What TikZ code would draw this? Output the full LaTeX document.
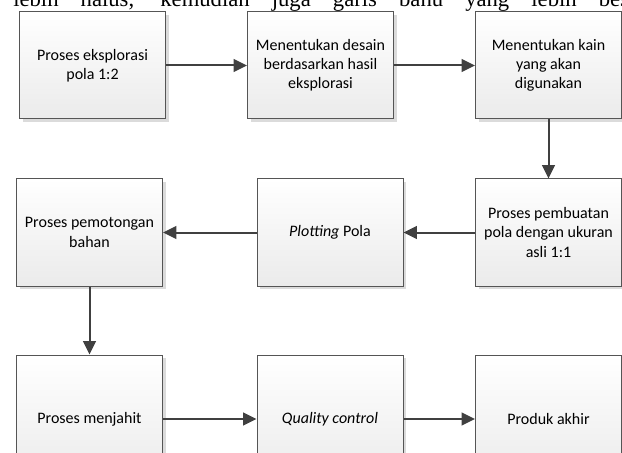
\documentclass[tikz,border=0pt]{standalone}
\usepackage{fontspec}
\setmainfont{Carlito}
\newfontfamily\teksatas{Liberation Serif}
\usepackage{tikz}
\usetikzlibrary{arrows.meta,shadows}

\definecolor{garis}{HTML}{555555}
\definecolor{panahwarna}{HTML}{404040}

\tikzset{
  proses/.style={draw=garis, line width=0.75pt, top color=white, bottom color=black!8,
    minimum width=109.5pt, minimum height=80.25pt, align=center, inner sep=2pt,
    font=\fontsize{12pt}{14.4pt}\selectfont,
    general shadow={fill=black!14, draw=none, shadow xshift=2.5pt, shadow yshift=-2.5pt}},
  prosestinggi/.style={proses, minimum height=96pt},
  panah/.style={draw=panahwarna, line width=1.5pt, -{Triangle[length=10pt,width=9.5pt]}}
}

\begin{document}
\begin{tikzpicture}[x=0.75pt,y=-0.75pt]
    \useasboundingbox (0,0) rectangle (622,453);
    \clip (0,0) rectangle (622,453);
    \node[anchor=base west, inner sep=0pt, font=\teksatas\fontsize{17pt}{20pt}\selectfont] (atas) at (13,7)
      {\makebox[475pt][s]{lebih halus, kemudian juga garis bahu yang lebih besar}};
    \node[proses] (eksplorasi) at (92.5,65.5) {Proses eksplorasi\\pola 1:2};
    \node[proses] (desain) at (320.5,65.5) {Menentukan desain\\berdasarkan hasil\\eksplorasi};
    \node[proses] (kain) at (548.5,65.5) {Menentukan kain\\yang akan\\digunakan};
    \node[proses] (pembuatan) at (548.5,232.5) {Proses pembuatan\\pola dengan ukuran\\asli 1:1};
    \node[proses] (plotting) at (330,232.5) {\textit{Plotting} Pola};
    \node[proses] (pemotongan) at (89.5,232.5) {Proses pemotongan\\bahan};
    \node[prosestinggi] (menjahit) at (89.5,419) {Proses menjahit};
    \node[prosestinggi] (qc) at (330,419) {\textit{Quality control}};
    \node[prosestinggi] (produk) at (548.5,419) {Produk akhir};
    \draw[panah] (eksplorasi) -- (desain);
    \draw[panah] (desain) -- (kain);
    \draw[panah] (kain) -- (pembuatan);
    \draw[panah] (pembuatan) -- (plotting);
    \draw[panah] (plotting) -- (pemotongan);
    \draw[panah] (pemotongan) -- (menjahit);
    \draw[panah] (menjahit) -- (qc);
    \draw[panah] (qc) -- (produk);
  \end{tikzpicture}
\end{document}
